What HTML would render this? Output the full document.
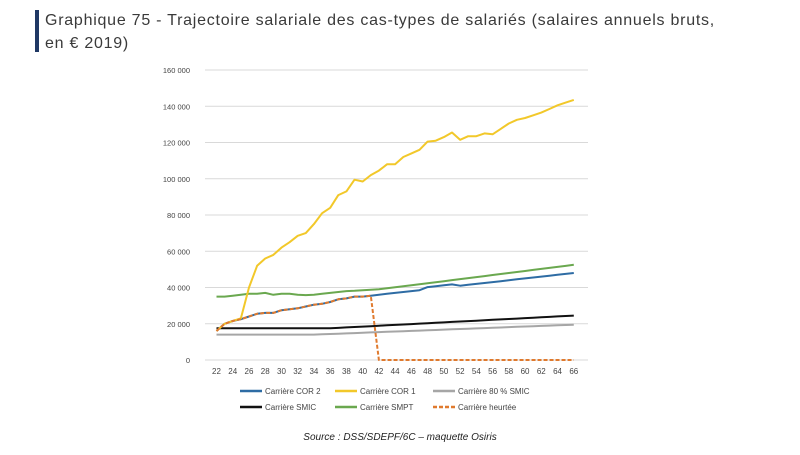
<!DOCTYPE html>
<html><head><meta charset="utf-8"><style>
body{margin:0;background:#fff;width:800px;height:450px;overflow:hidden;font-family:"Liberation Sans",sans-serif}
</style></head><body>
<svg width="800" height="450" xmlns="http://www.w3.org/2000/svg" id="s">
<rect x="35" y="10" width="4" height="42" fill="#1f3864"/>
<text x="45" y="25" font-size="16" fill="#3a3a3a" font-family="Liberation Sans, sans-serif" letter-spacing="0.75">Graphique 75 - Trajectoire salariale des cas-types de salariés (salaires annuels bruts,</text>
<text x="45" y="48" font-size="16" fill="#3a3a3a" font-family="Liberation Sans, sans-serif" letter-spacing="0.75">en € 2019)</text>
<g id="grid"></g>
<g id="lines"></g>
<g font-size="8" fill="#444" font-family="Liberation Sans, sans-serif">
<line x1="240" y1="391" x2="262" y2="391" stroke="#2e6ca4" stroke-width="2.5"/><text x="265" y="394">Carrière COR 2</text>
<line x1="335" y1="391" x2="357" y2="391" stroke="#f2c82a" stroke-width="2.5"/><text x="360" y="394">Carrière COR 1</text>
<line x1="433" y1="391" x2="455" y2="391" stroke="#a6a6a6" stroke-width="2.5"/><text x="458" y="394">Carrière 80 % SMIC</text>
<line x1="240" y1="407" x2="262" y2="407" stroke="#111" stroke-width="2.5"/><text x="265" y="410">Carrière SMIC</text>
<line x1="335" y1="407" x2="357" y2="407" stroke="#6aa84f" stroke-width="2.5"/><text x="360" y="410">Carrière SMPT</text>
<line x1="433" y1="407" x2="455" y2="407" stroke="#e07a2e" stroke-width="2.5" stroke-dasharray="4,2"/><text x="458" y="410">Carrière heurtée</text>
</g>
<text x="400" y="440" text-anchor="middle" font-size="10" font-style="italic" fill="#222" font-family="Liberation Sans, sans-serif">Source : DSS/SDEPF/6C – maquette Osiris</text>
</svg>
<script>
var NS="http://www.w3.org/2000/svg";
function X(a){return 216.5+(a-22)*8.12}
function Y(v){return 360-v*290/160000}
var g=document.getElementById("grid"),L=document.getElementById("lines");
function el(p,t,at,txt){var e=document.createElementNS(NS,t);for(var k in at)e.setAttribute(k,at[k]);if(txt)e.textContent=txt;p.appendChild(e);return e}
for(var v=0;v<=160000;v+=20000){el(g,"line",{x1:205,x2:588,y1:Y(v),y2:Y(v),stroke:"#d9d9d9","stroke-width":1});
el(g,"text",{x:190,y:Y(v)+3,"text-anchor":"end","font-size":"7.5",fill:"#444","font-family":"Liberation Sans, sans-serif"},v==0?"0":(v/1000)+" 000");}
for(var a=22;a<=66;a+=2)el(g,"text",{x:X(a),y:374,"text-anchor":"middle","font-size":"8",fill:"#444","font-family":"Liberation Sans, sans-serif"},a);
var h=[16000,20000,21500,22500,24000,25500,26000,26000,27500,28000,28500,29500,30500,31000,32000,33500,34000,35000,35000,35500];
var c1=[16000,20000,21500,23000,40000,52000,56000,58000,62000,65000,68500,70000,75000,81000,84000,91000,93000,99500,98500,102000,104500,108000,108000,112000,114000,116000,120500,121000,123000,125500,121500,123500,123500,125000,124500,127500,130500,132500,133500,135000,136500,138500,140500,142000,143500];
var c2=h.slice();for(var a=42;a<=66;a++)c2.push(36000+(a-42)*12000/24+(a>47&&a<52?1200:0));
var hh=h.slice();hh.push(0);for(var a=43;a<=66;a++)hh.push(0);
var sm=[35000,35000,35500,36000,36500,36500,37000,36000,36500,36500,36000,35800,36000,36500,37000,37500,38000,38200,38500,38800,39000];
for(var a=43;a<=66;a++)sm.push(39000+(a-42)*13500/24);
var smic=[],p80=[];for(var a=22;a<=66;a++){smic.push(a<36?17500:17500+(a-36)*7000/30);p80.push(a<34?14000:14000+(a-34)*5500/32)}
function line(d,c,w,dash){var pts=d.map(function(v,i){return X(22+i).toFixed(1)+","+Y(v).toFixed(1)}).join(" ");
var at={points:pts,fill:"none",stroke:c,"stroke-width":w,"stroke-linejoin":"round"};if(dash)at["stroke-dasharray"]=dash;el(L,"polyline",at)}
line(p80,"#a6a6a6",2);line(smic,"#111",2);line(sm,"#6aa84f",2);line(c2,"#2e6ca4",2);line(c1,"#f2c82a",2);line(hh,"#e07a2e",2,"4,2");
</script>
</body></html>
